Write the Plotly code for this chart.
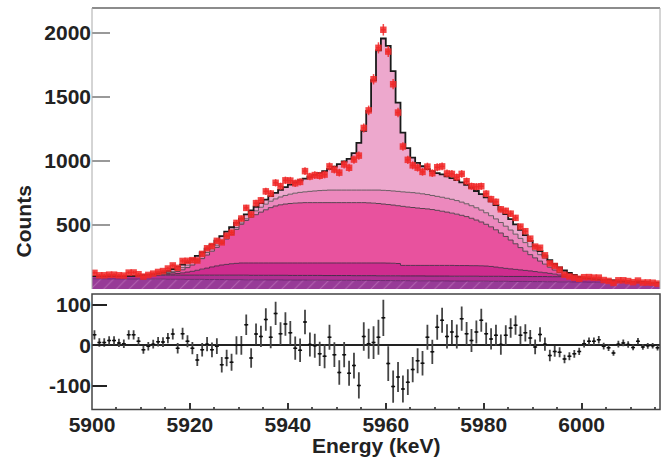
import numpy as np
import plotly.graph_objects as go

# ---------------- data (1 keV bins, 5900 .. 6016 keV) ----------------
E_MIN, E_MAX, BIN_W = 5900, 6016, 1
edges = np.arange(E_MIN, E_MAX + BIN_W, BIN_W)
centers = edges[:-1] + BIN_W / 2

# cumulative boundaries of the stacked fit components (counts per bin)
bkg_top = [80,80,80,79,79,79,79,78,78,78,
           78,77,77,77,77,76,76,76,76,75,
           75,75,75,74,74,74,74,73,73,73,
           73,72,72,72,72,71,71,71,71,70,
           70,70,70,70,69,69,69,69,68,68,
           68,68,68,67,67,67,67,66,66,66,
           66,65,65,65,65,64,64,64,64,63,
           63,63,63,62,62,62,62,61,61,61,
           61,60,60,60,60,59,59,59,59,58,
           58,58,57,57,57,56,56,56,55,55,
           55,54,54,53,53,52,52,51,51,50,
           50,49,48,47,47,46]

comp2_top = [100,100,100,100,100,101,101,102,103,105,
             106,107,107,108,108,108,108,108,108,108,
             108,108,108,108,108,108,108,108,108,108,
             108,108,107,107,107,107,107,107,107,107,
             106,106,106,106,106,106,106,105,105,105,
             105,105,105,104,104,104,104,104,103,103,
             103,103,103,102,102,102,102,102,101,101,
             101,101,101,100,100,100,100,100,100,99,
             99,99,99,99,98,98,98,98,98,97,
             97,97,97,96,96,96,96,96,96,95,
             88,83,79,75,72,69,67,65,62,60,
             58,56,54,52,50,48]

comp3_top = [100,100,100,100,100,101,101,102,103,105,
             106,107,107,110,112,114,117,121,126,132,
             138,146,155,163,172,180,187,192,197,200,
             203,203,203,203,203,203,203,203,203,203,
             203,203,203,203,203,203,203,203,203,203,
             203,203,203,203,203,203,203,203,203,203,
             202,201,199,184,184,184,184,184,184,184,
             184,184,184,184,183,183,183,182,182,181,
             179,176,171,166,161,157,153,149,145,141,
             136,131,127,122,116,109,103,98,96,95,
             88,83,79,75,72,69,67,65,62,60,
             58,56,54,52,50,48]

comp4_top = [100,100,100,100,100,101,101,102,103,105,
             106,107,107,112,116,121,128,137,150,167,
             187,210,237,265,295,325,357,390,425,465,
             505,535,560,580,600,618,635,648,657,663,
             667,670,672,674,674,674,674,674,674,674,
             674,674,674,674,674,674,672,670,667,663,
             659,655,650,645,640,636,632,628,625,620,
             614,607,600,592,584,575,565,552,538,523,
             505,485,462,437,410,382,353,323,295,268,
             243,218,194,170,148,128,112,100,96,95,
             88,83,79,75,72,69,67,65,62,60,
             58,56,54,52,50,48]

comp5_top = [100,100,100,100,100,101,101,102,103,105,
             106,107,107,114,120,128,138,151,167,186,
             208,232,258,285,313,342,374,408,443,480,
             515,548,580,610,638,662,685,703,718,730,
             740,748,754,758,762,765,768,770,772,772,
             772,772,772,772,772,772,772,772,772,770,
             768,765,762,758,755,752,748,743,737,730,
             723,716,708,700,690,678,665,650,634,616,
             595,572,547,519,490,460,428,395,362,330,
             298,268,240,212,186,160,138,118,104,95,
             88,83,79,75,72,69,67,65,62,60,
             58,56,54,52,50,48]

total_fit = [100,100,100,100,100,101,101,102,103,105,
             108,112,117,124,132,142,156,172,190,210,
             232,258,285,315,346,378,412,447,482,516,
             550,582,613,642,670,698,725,750,773,795,
             815,832,848,862,876,890,905,920,937,955,
             975,995,1015,1060,1140,1235,1390,1630,1862,1955,
             1898,1700,1455,1220,1099,1025,985,958,935,920,
             905,895,880,865,850,832,812,790,765,740,
             715,685,655,620,585,545,505,462,420,375,
             335,295,260,225,195,168,145,125,110,95,
             88,83,79,75,72,69,67,65,62,60,
             58,56,54,52,50,48]

# residuals (data - fit), counts
residual = [26,7,7,12,12,6,4,26,26,10,
            -11,-2,3,9,8,18,28,-7,29,10,
            -7,-36,-11,3,-11,-2,-48,-31,-42,0,
            0,51,-31,28,22,64,20,79,29,53,
            31,-7,-12,58,2,-1,-21,-27,20,-23,
            -67,-23,-69,-50,-99,22,4,7,20,68,
            -45,-102,-78,-108,-91,-60,-38,-44,20,-16,
            45,62,22,33,22,66,29,12,33,62,
            29,16,25,2,25,43,50,25,31,18,
            -4,27,3,-25,-15,-17,-34,-27,-21,-15,
            4,10,10,14,-2,-6,-19,3,6,2,
            -5,10,-4,-1,-1,-6]

counts = np.array(total_fit) + np.array(residual)
count_err = np.sqrt(counts)

y_ticks_top = [500, 1000, 1500, 2000]
y_ticks_bot = [-100, 0, 100]
y_ticktext_bot = ["-100", "0", "100"]
x_ticks = [5900, 5920, 5940, 5960, 5980, 6000]

# ---------------- styling ----------------
FONT = "Liberation Sans, Arial, Helvetica, sans-serif"
layers = [
    (bkg_top,   "#973b97", "#6e2a70", 1.0),
    (comp2_top, "#b02f92", "#4a2a4a", 1.0),
    (comp3_top, "#cf2c8e", "#5a3050", 1.0),
    (comp4_top, "#e8529e", "#5a4050", 1.0),
    (comp5_top, "#ec88bd", "#6a5a62", 1.0),
    (total_fit, "#eda8cd", "#1a1a1a", 1.8),
]

fig = go.Figure()

def stepy(v):
    return list(v) + [v[-1]]

for i, (vals, fc, lc, lw) in enumerate(layers):
    kw = {}
    if i == 0:
        kw["fillpattern"] = dict(shape="/", size=9, solidity=0.12,
                                 fgcolor="#b262b0", bgcolor=fc, fillmode="replace")
    fig.add_trace(go.Scatter(
        x=edges, y=stepy(vals), mode="lines", line=dict(shape="hv", color=lc, width=lw),
        fill="tozeroy" if i == 0 else "tonexty", fillcolor=fc,
        hoverinfo="skip", xaxis="x", yaxis="y", **kw))

# data points
RED = "rgba(240,40,40,0.85)"
fig.add_trace(go.Scatter(
    x=centers, y=counts, mode="markers",
    marker=dict(symbol="square", size=6.5, color=RED, line=dict(width=0)),
    error_y=dict(type="data", array=count_err, color=RED, thickness=1.5, width=0),
    error_x=dict(type="data", array=[0.5] * len(centers), color=RED, thickness=1.5, width=0),
    xaxis="x", yaxis="y"))

# residuals
fig.add_trace(go.Scatter(
    x=centers, y=residual, mode="markers",
    marker=dict(size=2, color="#111"),
    error_y=dict(type="data", array=count_err, color="#444", thickness=1.8, width=0),
    error_x=dict(type="data", array=[0.4] * len(centers), color="#111", thickness=1.5, width=0),
    xaxis="x2", yaxis="y2"))

W, H = 664, 461
xd = [92 / W, 660 / W]
tickfont = dict(family=FONT, size=21, color="#222", weight="bold")

fig.update_layout(
    width=W, height=H, margin=dict(l=0, r=0, t=0, b=0, autoexpand=False),
    paper_bgcolor="white", plot_bgcolor="white", showlegend=False,
    xaxis=dict(domain=xd, range=[E_MIN, E_MAX], anchor="y", showticklabels=False,
               ticks="", showline=False, showgrid=False, zeroline=False, automargin=False),
    yaxis=dict(domain=[1 - 289 / H, 1 - 8 / H], range=[0, 2193], anchor="x",
               tickvals=y_ticks_top, ticks="inside", ticklen=18, tickwidth=1.5, tickcolor="#999",
               showline=False, showgrid=False, zeroline=False, tickfont=tickfont, automargin=False),
    xaxis2=dict(domain=xd, range=[E_MIN, E_MAX], anchor="y2",
                tickvals=x_ticks, ticks="inside", ticklen=7, tickwidth=1.5, tickcolor="#333",
                minor=dict(dtick=5, tick0=5900, ticks="inside", ticklen=3, tickcolor="#555"),
                showline=False, showgrid=False, zeroline=False, tickfont=tickfont, automargin=False),
    yaxis2=dict(domain=[1 - 409.5 / H, 1 - 294 / H], range=[-158.6, 127], anchor="x2",
                tickvals=y_ticks_bot, ticktext=y_ticktext_bot,
                ticks="inside", ticklen=15, tickwidth=1.5, tickcolor="#222",
                showline=False, showgrid=False, zeroline=True, zerolinecolor="#222",
                zerolinewidth=2, tickfont=tickfont, automargin=False),
    shapes=[
        dict(type="line", xref="x domain", yref="y domain", x0=0, x1=1, y0=1, y1=1,
             line=dict(color="#666", width=1.5), layer="above"),
        dict(type="line", xref="x domain", yref="y domain", x0=0, x1=0, y0=0, y1=1,
             line=dict(color="#aaa", width=1), layer="above"),
        dict(type="line", xref="x domain", yref="y domain", x0=1, x1=1, y0=0, y1=1,
             line=dict(color="#aaa", width=1), layer="above"),
        dict(type="rect", xref="x2 domain", yref="y2 domain", x0=0, x1=1, y0=0, y1=1,
             line=dict(color="#444", width=1.5), layer="above"),
    ],
    annotations=[
        dict(text="Energy (keV)", xref="paper", yref="paper", x=(92 + 660) / 2 / W, y=1 - 445 / H,
             xanchor="center", yanchor="middle", showarrow=False,
             font=dict(family=FONT, size=21, color="#222", weight="bold")),
        dict(text="Counts", xref="paper", yref="paper", x=22.5 / W, y=1 - 222 / H,
             xanchor="center", yanchor="middle", showarrow=False, textangle=-90,
             font=dict(family=FONT, size=21, color="#222", weight="bold")),
    ],
)

fig.write_html("out.html", config={"displayModeBar": False},
               post_script="document.body.style.margin='0';document.body.style.padding='0';")
